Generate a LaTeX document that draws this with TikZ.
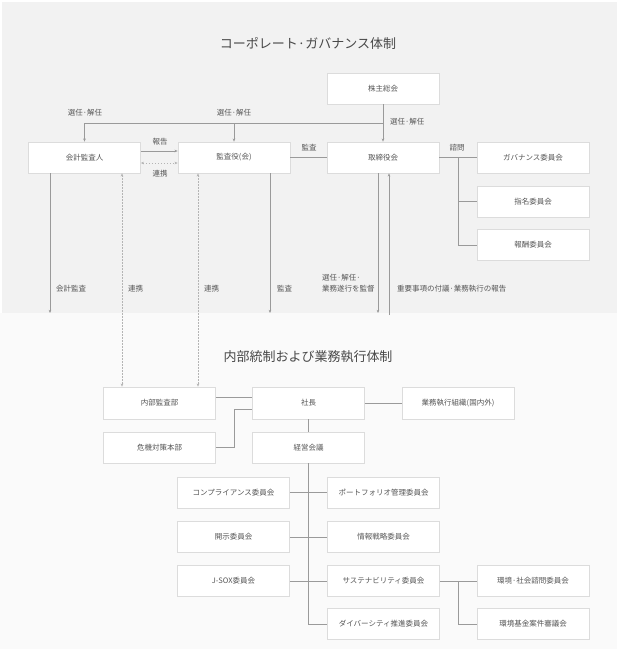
\documentclass[tikz,border=0pt]{standalone}
\usepackage{fontspec}
\setmainfont{Noto Sans CJK JP}
\usetikzlibrary{arrows.meta,calc}
\definecolor{bgtop}{HTML}{F2F2F2}
\definecolor{bgbot}{HTML}{FAFAFA}
\definecolor{boxline}{HTML}{DCDCDC}
\definecolor{conn}{HTML}{9A9A9A}
\definecolor{dconn}{HTML}{B4B4B4}
\definecolor{txt}{HTML}{555555}
\tikzset{
  orgbox/.style={draw=boxline,fill=white,line width=0.6pt,minimum width=112pt,minimum height=31pt,inner sep=0pt,font=\fontsize{7.5}{9}\selectfont,text=txt},
  lbl/.style={font=\fontsize{7.5}{9}\selectfont,text=txt,inner sep=0pt},
  ttl/.style={font=\fontsize{13}{15}\selectfont,text=txt!85!black,inner sep=0pt},
  cn/.style={draw=conn,line width=0.6pt},
  arr/.style={cn,-{Stealth[length=3.2pt,width=2.6pt]}},
  darr/.style={draw=dconn,line width=0.6pt,dash pattern=on 1.5pt off 1.5pt,{Stealth[length=3.2pt,width=2.6pt]}-{Stealth[length=3.2pt,width=2.6pt]}}
}
\begin{document}
\begin{tikzpicture}[x=1pt,y=-1pt]
\useasboundingbox (0,0) rectangle (617,649);
\fill[white] (0,0) rectangle (617,649);
\fill[bgtop] (2,2) rectangle (617,313);
\fill[bgbot] (0,313) rectangle (617,649);

% titles
\node[ttl] (t1) at (308,43) {コーポレート·ガバナンス体制};
\node[ttl] (t2) at (308,357) {内部統制および業務執行体制};

% top boxes
\node[orgbox] (kabu) at (383,88.5) {株主総会};
\node[orgbox] (kaikei) at (84.5,157.5) {会計監査人};
\node[orgbox] (kansa) at (234,157.5) {監査役(会)};
\node[orgbox] (tori) at (383,157.5) {取締役会};
\node[orgbox] (gov) at (533,157.5) {ガバナンス委員会};
\node[orgbox] (shimei) at (533,201.5) {指名委員会};
\node[orgbox] (hoshu) at (533,245) {報酬委員会};

% bottom boxes
\node[orgbox,minimum height=32pt] (naibu) at (159.5,403) {内部監査部};
\node[orgbox,minimum height=32pt] (shacho) at (308.5,403) {社長};
\node[orgbox,minimum height=32pt] (gyomu) at (458,403) {業務執行組織(国内外)};
\node[orgbox] (kiki) at (159.5,447.5) {危機対策本部};
\node[orgbox] (keiei) at (308.5,447.5) {経営会議};
\node[orgbox] (comp) at (233.5,492.5) {コンプライアンス委員会};
\node[orgbox] (kaiji) at (233.5,537) {開示委員会};
\node[orgbox] (jsox) at (233.5,581) {J-SOX委員会};
\node[orgbox] (port) at (383.5,492.5) {ポートフォリオ管理委員会};
\node[orgbox] (joho) at (383.5,537) {情報戦略委員会};
\node[orgbox] (sus) at (383.5,581) {サステナビリティ委員会};
\node[orgbox] (div) at (383.5,624) {ダイバーシティ推進委員会};
\node[orgbox] (kankyo) at (533,581) {環境·社会諮問委員会};
\node[orgbox] (kikin) at (533,624) {環境基金案件審議会};

% coordinates
\coordinate (sel) at (383,123);
\coordinate (c1) at (50,313);
\coordinate (d1) at (122,313);
\coordinate (d2) at (198,313);
\coordinate (c3) at (270,313);
\coordinate (c4) at (378,313);
\coordinate (c5) at (389,315);

% top connectors
\draw[arr] (kabu.south) -- (tori.north);
\draw[arr] (sel) -| (kaikei.north);
\draw[arr] (kansa.north |- sel) -- (kansa.north);
\draw[arr] ([yshift=6.5pt]kaikei.east) -- ([yshift=6.5pt]kansa.west);
\draw[darr] ([yshift=-5.5pt]kaikei.east) -- ([yshift=-5.5pt]kansa.west);
\draw[cn] (kansa.east) -- (tori.west);
\draw[cn] (tori.east) -- (gov.west);
\coordinate (br) at ($(tori.east)!0.5!(gov.west)$);
\draw[cn] (br) |- (shimei.west);
\draw[cn] (br) |- (hoshu.west);

\draw[arr] (kaikei.south -| c1) -- (c1);
\draw[darr] (kaikei.south -| d1) -- (naibu.north -| d1);
\draw[darr] (kansa.south -| d2) -- (naibu.north -| d2);
\draw[arr] (kansa.south -| c3) -- (c3);
\draw[arr] (tori.south -| c4) -- (c4);
\draw[arr] (c5) -- (tori.south -| c5);

% top labels
\node[lbl] (l1) at (85,113) {選任·解任};
\node[lbl] (l2) at (234,113) {選任·解任};
\node[lbl,anchor=west] (l3) at (390,122) {選任·解任};
\node[lbl] (l4) at (160,142) {報告};
\node[lbl] (l5) at (160,173.5) {連携};
\node[lbl] (l6) at (309,148) {監査};
\node[lbl] (l7) at (457,147.5) {諮問};
\node[lbl,anchor=west] (l8) at (56,288.5) {会計監査};
\node[lbl,anchor=west] (l9) at (128,288.5) {連携};
\node[lbl,anchor=west] (l10) at (204,288.5) {連携};
\node[lbl,anchor=west] (l11) at (277,288.5) {監査};
\node[lbl,anchor=west] (l12) at (322,277.5) {選任·解任·};
\node[lbl,anchor=west] (l13) at (322,289) {業務遂行を監督};
\node[lbl,anchor=west] (l14) at (397,289) {重要事項の付議·業務執行の報告};

% bottom connectors
\draw[cn] ([yshift=6pt]naibu.east) -- ([yshift=6pt]shacho.west);
\draw[cn] (kiki.east) -- ++(18,0) |- ([yshift=-6pt]shacho.west);
\draw[cn] (shacho.east) -- (gyomu.west);
\draw[cn] (shacho.south) -- (keiei.north);
\draw[cn] (keiei.south) |- (div.west);
\draw[cn] (comp.east) -- (port.west);
\draw[cn] (kaiji.east) -- (joho.west);
\draw[cn] (jsox.east) -- (sus.west);
\draw[cn] (sus.east) -- (kankyo.west);
\coordinate (br2) at ($(sus.east)!0.5!(kankyo.west)$);
\draw[cn] (br2) |- (kikin.west);
\end{tikzpicture}
\end{document}
